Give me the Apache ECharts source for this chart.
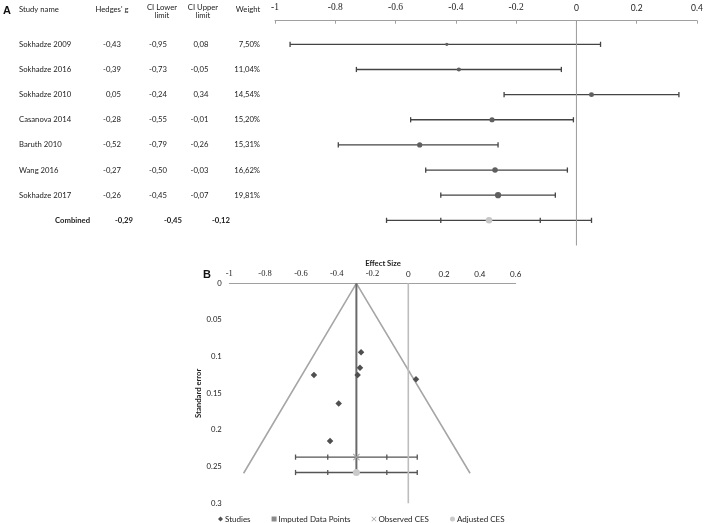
<!DOCTYPE html>
<html><head><meta charset="utf-8">
<script src="https://cdn.jsdelivr.net/npm/echarts@6/dist/echarts.min.js"></script>
<style>html,body{margin:0;padding:0;background:#fff}#c{width:708px;height:523px}</style>
</head><body><div id="c"></div>
<script>
// ---------- Panel A data ----------
const studyNames = ['Sokhadze 2009','Sokhadze 2016','Sokhadze 2010','Casanova 2014','Baruth 2010','Wang 2016','Sokhadze 2017'];
const hedgesG   = [-0.43, -0.39, 0.05, -0.28, -0.52, -0.27, -0.26];
const ciLower   = [-0.95, -0.73, -0.24, -0.55, -0.79, -0.50, -0.45];
const ciUpper   = [0.08, -0.05, 0.34, -0.01, -0.26, -0.03, -0.07];
const weightPct = [7.50, 11.04, 14.54, 15.20, 15.31, 16.62, 19.81];
const combinedLabel = 'Combined';
const combinedStats = [-0.29, -0.45, -0.12];   // g, lower, upper
const combinedPI = [-0.63, 0.05];                // outer interval
const tableHeaders = ['Study name', "Hedges' g", 'CI Lower\nlimit', 'CI Upper\nlimit', 'Weight'];

// ---------- Panel B data ----------
const funnelEffect = [-0.264, -0.27, -0.283, -0.527, 0.043, -0.389, -0.437];
const funnelSE     = [0.094, 0.115, 0.125, 0.125, 0.131, 0.164, 0.215];
const imputedPoints = [];
const observedCES = [-0.29, 0.237];
const adjustedCES = [-0.29, 0.258];
const cesInterval = [-0.63, -0.45, -0.12, 0.05];
const funnelApex = [-0.29, 0];
const funnelLeft = [-0.92, 0.259];
const funnelRight = [0.345, 0.259];
const legendNames = ['Studies', 'Imputed Data Points', 'Observed CES', 'Adjusted CES'];

const fmt = v => v.toFixed(2).replace('.', ',');
const TXT = '#222';
const FF = 'Lato, "Open Sans", sans-serif';
const FS = '7.7px ';

// table cells
const tableCells = [];
studyNames.forEach((n, i) => {
  const r = i + 1;
  tableCells.push({value:[19, r], t:n, a:'left', b:false});
  tableCells.push({value:[121, r], t:fmt(hedgesG[i]), a:'right', b:false});
  tableCells.push({value:[167, r], t:fmt(ciLower[i]), a:'right', b:false});
  tableCells.push({value:[208.5, r], t:fmt(ciUpper[i]), a:'right', b:false});
  tableCells.push({value:[260, r], t:weightPct[i].toFixed(2).replace('.', ',') + '%', a:'right', b:false});
});
const cr = studyNames.length + 1;
tableCells.push({value:[90, cr], t:combinedLabel, a:'right', b:true});
tableCells.push({value:[133, cr], t:fmt(combinedStats[0]), a:'right', b:true});
tableCells.push({value:[182, cr], t:fmt(combinedStats[1]), a:'right', b:true});
tableCells.push({value:[230, cr], t:fmt(combinedStats[2]), a:'right', b:true});

const tickFmt = v => {
  const s = String(Math.round(v * 10) / 10);
  return v < 0 ? '{n|' + s + '}' : '{p|' + s + '}';
};

const capRender = (caps, rowDim, color) => (params, api) => {
  const y = api.value(rowDim);
  const pts = caps.map(d => api.coord([api.value(d), y]));
  const children = [{
    type:'line', shape:{x1:pts[0][0], y1:pts[0][1], x2:pts[pts.length-1][0], y2:pts[0][1]},
    style:{stroke:color, lineWidth:1.3}
  }];
  pts.forEach(p => children.push({
    type:'line', shape:{x1:p[0], y1:p[1]-2.6, x2:p[0], y2:p[1]+2.6}, style:{stroke:color, lineWidth:1.3}
  }));
  return {type:'group', children};
};

const xPath = 'path://M1,0L5,4L9,0L10,1L6,5L10,9L9,10L5,6L1,10L0,9L4,5L0,1Z';

const chart = echarts.init(document.getElementById('c'), null, {renderer:'canvas'});
const A_TOP = 20.7, A_H = 224.8;
chart.setOption({
  animation:false,
  backgroundColor:'#fff',
  grid:[
    {left:0, top:A_TOP, width:275, height:A_H},
    {left:275, top:A_TOP, width:422, height:A_H},
    {left:229.3, top:283.3, width:286.4, height:220}
  ],
  xAxis:[
    {gridIndex:0, type:'value', min:0, max:275, show:false},
    {gridIndex:1, type:'value', min:-1, max:0.4, interval:0.2, position:'top',
      axisLine:{show:true, onZero:false, lineStyle:{color:'#a0a0a0', width:1}},
      axisTick:{show:true, inside:true, length:3, lineStyle:{color:'#a0a0a0'}},
      splitLine:{show:false},
      axisLabel:{margin:8, formatter:tickFmt, rich:{
        n:{fontFamily:'"Liberation Serif", serif', fontSize:9.5, color:TXT},
        p:{fontFamily:FF, fontSize:8.5, color:TXT}}}},
    {gridIndex:2, type:'value', min:-1, max:0.6, interval:0.2, position:'top',
      axisLine:{show:true, onZero:false, lineStyle:{color:'#a0a0a0', width:1}},
      axisTick:{show:false}, splitLine:{show:false},
      axisLabel:{margin:5, formatter:tickFmt, rich:{
        n:{fontFamily:'"Liberation Serif", serif', fontSize:8.5, color:TXT},
        p:{fontFamily:FF, fontSize:8, color:TXT}}}}
  ],
  yAxis:[
    {gridIndex:0, type:'value', min:0.06, max:9, inverse:true, show:false},
    {gridIndex:1, type:'value', min:0.06, max:9, inverse:true, show:false},
    {gridIndex:2, type:'value', min:0, max:0.3, interval:0.05, inverse:true,
      axisLine:{show:false}, axisTick:{show:false}, splitLine:{show:false},
      axisLabel:{margin:7.5, fontFamily:FF, fontSize:7.7, color:TXT},
      name:'Standard error', nameLocation:'middle', nameGap:27, nameRotate:90,
      nameTextStyle:{fontFamily:FF, fontSize:7.7, fontWeight:'bold', color:TXT}}
  ],
  legend:{
    left:213, top:510, itemWidth:5, itemHeight:5, itemGap:21,
    textStyle:{fontFamily:FF, fontSize:8, color:TXT, padding:[0,0,0,-3]},
    data:[
      {name:legendNames[0], icon:'diamond'},
      {name:legendNames[1], icon:'rect'},
      {name:legendNames[2], icon:xPath},
      {name:legendNames[3], icon:'circle'}
    ]
  },
  graphic:[
    {type:'text', left:3, top:5, style:{text:'A', font:'bold 11px "Liberation Sans", sans-serif', fill:'#111'}},
    {type:'text', left:203, top:269, style:{text:'B', font:'bold 11px "Liberation Sans", sans-serif', fill:'#111'}},
    {type:'text', x:19, y:10, style:{text:tableHeaders[0], font:FS + FF, fill:TXT, align:'left', verticalAlign:'middle'}},
    {type:'text', x:112, y:10, style:{text:tableHeaders[1], font:FS + FF, fill:TXT, align:'center', verticalAlign:'middle'}},
    {type:'text', x:162, y:11.3, style:{text:tableHeaders[2], font:FS + FF, lineHeight:7.8, fill:TXT, align:'center', verticalAlign:'middle'}},
    {type:'text', x:203, y:11.3, style:{text:tableHeaders[3], font:FS + FF, lineHeight:7.8, fill:TXT, align:'center', verticalAlign:'middle'}},
    {type:'text', x:248, y:10, style:{text:tableHeaders[4], font:FS + FF, fill:TXT, align:'center', verticalAlign:'middle'}},
    {type:'text', x:383, y:264, style:{text:'Effect Size', font:'bold 7.7px ' + FF, fill:TXT, align:'center', verticalAlign:'middle'}}
  ],
  series:[
    // table text
    {type:'custom', xAxisIndex:0, yAxisIndex:0, silent:true,
      data:tableCells.map(c => c.value),
      renderItem:(params, api) => {
        const c = tableCells[params.dataIndex];
        const p = api.coord([api.value(0), api.value(1)]);
        return {type:'text', x:p[0], y:p[1], style:{text:c.t, align:c.a, verticalAlign:'middle',
          font:(c.b ? 'bold ' : '') + FS + FF, fill:TXT}};
      }},
    // forest zero line
    {type:'line', xAxisIndex:1, yAxisIndex:1, data:[[0,0.06],[0,9]], symbol:'none', silent:true,
      lineStyle:{color:'#9a9a9a', width:1}},
    // study CIs
    {type:'custom', xAxisIndex:1, yAxisIndex:1, silent:true,
      data:studyNames.map((n,i) => [ciLower[i], ciUpper[i], i+1]),
      renderItem:capRender([0,1], 2, '#444')},
    // combined intervals
    {type:'custom', xAxisIndex:1, yAxisIndex:1, silent:true,
      data:[[combinedPI[0], combinedStats[1], combinedStats[2], combinedPI[1], cr]],
      renderItem:capRender([0,1,2,3], 4, '#444')},
    // study points
    {type:'scatter', xAxisIndex:1, yAxisIndex:1, silent:true, z:5,
      data:studyNames.map((n,i) => [hedgesG[i], i+1, weightPct[i]]),
      symbolSize:v => 1.5 + v[2]*0.24, itemStyle:{color:'#5f5f5f', opacity:1}},
    {type:'scatter', xAxisIndex:1, yAxisIndex:1, silent:true, z:5,
      data:[[combinedStats[0], cr]], symbolSize:6.5, itemStyle:{color:'#c6c6c6', opacity:1}},

    // ---- Panel B ----
    {type:'line', xAxisIndex:2, yAxisIndex:2, data:[funnelLeft, funnelApex, funnelRight], symbol:'none', silent:true,
      lineStyle:{color:'#a6a6a6', width:1.6}},
    {type:'line', xAxisIndex:2, yAxisIndex:2, data:[[0,0],[0,0.3]], symbol:'none', silent:true,
      lineStyle:{color:'#bdbdbd', width:1.6}},
    {type:'line', xAxisIndex:2, yAxisIndex:2, data:[funnelApex, [funnelApex[0], adjustedCES[1]]], symbol:'none', silent:true,
      lineStyle:{color:'#6a6a6a', width:2}},
    {type:'custom', xAxisIndex:2, yAxisIndex:2, silent:true,
      data:[[...cesInterval, observedCES[1]], [...cesInterval, adjustedCES[1]]],
      renderItem:capRender([0,1,2,3], 4, '#555')},
    {name:legendNames[0], type:'scatter', xAxisIndex:2, yAxisIndex:2, z:5,
      data:funnelEffect.map((x,i) => [x, funnelSE[i]]), symbol:'diamond', symbolSize:6.5,
      itemStyle:{color:'#4f4f4f', opacity:1}},
    {name:legendNames[1], type:'scatter', xAxisIndex:2, yAxisIndex:2, z:5,
      data:imputedPoints, symbol:'rect', symbolSize:6, itemStyle:{color:'#8a8a8a', opacity:1}},
    {name:legendNames[2], type:'scatter', xAxisIndex:2, yAxisIndex:2, z:6,
      data:[observedCES], symbol:xPath, symbolSize:7, itemStyle:{color:'#a3a3a3', opacity:1}},
    {name:legendNames[3], type:'scatter', xAxisIndex:2, yAxisIndex:2, z:6,
      data:[adjustedCES], symbol:'circle', symbolSize:7, itemStyle:{color:'#cacaca', opacity:1}}
  ]
});
</script></body></html>
